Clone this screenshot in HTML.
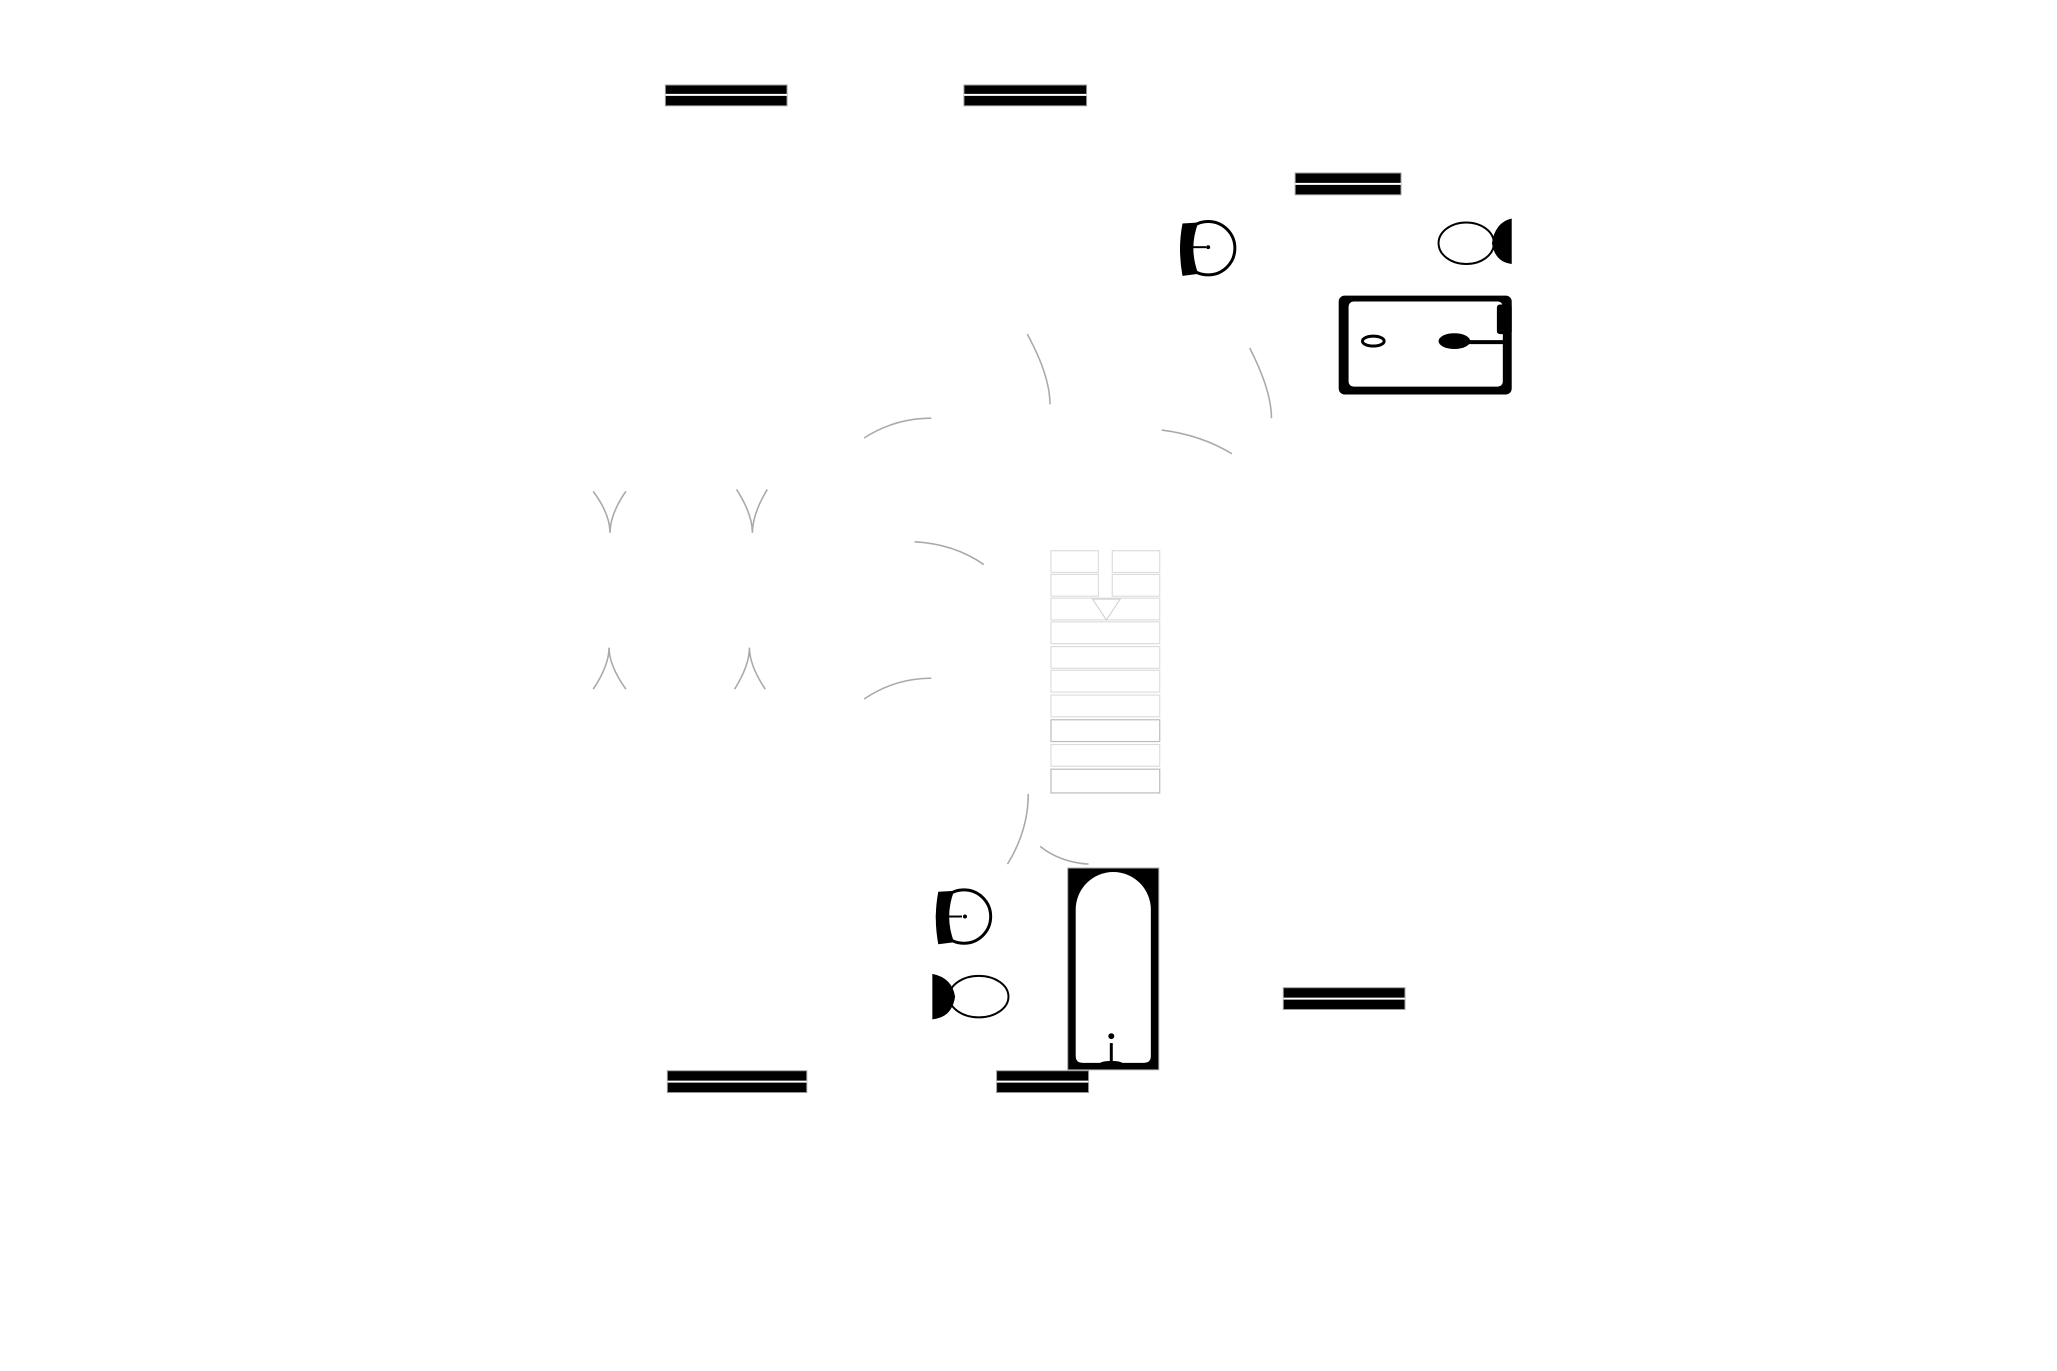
<!DOCTYPE html>
<html><head><meta charset="utf-8"><style>html,body{margin:0;padding:0;background:#fff;width:2057px;height:1371px;overflow:hidden}</style></head>
<body>
<svg width="2057" height="1371" viewBox="0 0 2057 1371" xmlns="http://www.w3.org/2000/svg">
<rect width="2057" height="1371" fill="#fff"/>
<g transform="scale(0.9887)">
<g fill="#000" stroke="#999" stroke-width="1">
<rect x="673" y="86" width="123" height="21"/>
<rect x="975" y="86" width="124" height="21"/>
<rect x="1310" y="175" width="107" height="22"/>
<rect x="1298" y="999" width="123" height="22"/>
<rect x="675" y="1083" width="141" height="22"/>
<rect x="1008" y="1083" width="93" height="22"/>
</g>
<g stroke="#fff" stroke-width="2">
<line x1="673" y1="96" x2="796" y2="96"/><line x1="975" y1="96" x2="1099" y2="96"/>
<line x1="1310" y1="186" x2="1417" y2="186"/><line x1="1298" y1="1010" x2="1421" y2="1010"/>
<line x1="675" y1="1094" x2="816" y2="1094"/><line x1="1008" y1="1094" x2="1101" y2="1094"/>
</g>
<!-- top sink -->
<circle cx="1222" cy="251" r="27" fill="#fff" stroke="#000" stroke-width="3"/>
<path d="M1196 226 L1212 225 Q1202 251 1212 277 L1196 279 Q1191 252 1196 226Z" fill="#000"/>
<line x1="1206" y1="250" x2="1220" y2="250" stroke="#000" stroke-width="2"/>
<circle cx="1222" cy="250" r="2" fill="#000"/>
<!-- top toilet -->
<ellipse cx="1483" cy="246" rx="28" ry="21" fill="#fff" stroke="#000" stroke-width="2"/>
<path d="M1529 221 L1529 267 Q1512 265 1509 246 Q1512 225 1529 221Z" fill="#000"/>
<!-- top bath -->
<rect x="1354" y="299" width="175" height="100" rx="6" fill="#000"/>
<rect x="1364" y="305" width="156" height="86" rx="5" fill="#fff"/>
<rect x="1514" y="308" width="15" height="30" rx="3" fill="#000"/>
<ellipse cx="1389" cy="345" rx="11" ry="5" fill="none" stroke="#000" stroke-width="3"/>
<ellipse cx="1471" cy="345" rx="16" ry="8" fill="#000"/>
<line x1="1480" y1="346" x2="1522" y2="346" stroke="#000" stroke-width="4"/>
<!-- arcs -->
<g fill="none" stroke="#aaa" stroke-width="1.6">
<path d="M1039 338 Q1062 380 1062 409"/>
<path d="M1264 352 Q1286 395 1286 423"/>
<path d="M874 443 Q905 423 942 423"/>
<path d="M1175 435 Q1215 440 1246 459"/>
<g transform="translate(8,5)">
<path d="M592 492 Q609 515 609 534 M625 492 Q609 515 609 534"/>
<path d="M737 490 Q753 515 753 534 M768 490 Q753 515 753 534"/>
<path d="M592 692 Q608 668 608 650 M625 692 Q608 668 608 650"/>
<path d="M735 692 Q750 668 750 650 M766 692 Q750 668 750 650"/>
</g>
<path d="M925 548 Q965 550 995 571"/>
<path d="M874 707 Q905 686 942 686"/>
<path d="M1040 803 Q1040 840 1019 874"/>
<path d="M1052 856 Q1072 872 1101 874"/>
</g>
<!-- stairs -->
<g fill="#fff" stroke="#ddd" stroke-width="1.2">
<rect x="1063" y="557" width="48" height="22"/><rect x="1125" y="557" width="48" height="22"/>
<rect x="1063" y="581" width="48" height="22"/><rect x="1125" y="581" width="48" height="22"/>
<rect x="1063" y="605" width="110" height="22"/>
<rect x="1063" y="629" width="110" height="22"/>
<rect x="1063" y="654" width="110" height="22"/>
<rect x="1063" y="678" width="110" height="22"/>
<rect x="1063" y="703" width="110" height="22"/>
<rect x="1063" y="728" width="110" height="22" stroke="#bbb"/>
<rect x="1063" y="753" width="110" height="22"/>
<rect x="1063" y="778" width="110" height="24" stroke="#bbb"/>
</g>
<path d="M1105 606 L1133 606 L1119 627Z" fill="#fff" stroke="#ccc"/>
<!-- bottom sink -->
<circle cx="975" cy="927" r="27" fill="#fff" stroke="#000" stroke-width="3"/>
<path d="M949 902 L965 901 Q955 927 965 953 L949 955 Q944 928 949 902Z" fill="#000"/>
<line x1="959" y1="927" x2="973" y2="927" stroke="#000" stroke-width="2"/>
<circle cx="976" cy="927" r="2" fill="#000"/>
<!-- bottom toilet -->
<ellipse cx="990" cy="1008" rx="30" ry="21" fill="#fff" stroke="#000" stroke-width="2"/>
<path d="M943 985 L943 1031 Q963 1029 966 1008 Q963 989 943 985Z" fill="#000"/>
<!-- bottom bath -->
<rect x="1080" y="878" width="92" height="204" fill="#000" stroke="#999"/>
<path d="M1088 920 A38 38 0 0 1 1164 920 L1164 1068 Q1164 1075 1157 1075 L1095 1075 Q1088 1075 1088 1068Z" fill="#fff"/>
<circle cx="1124" cy="1048" r="3" fill="#000"/>
<line x1="1124" y1="1055" x2="1124" y2="1076" stroke="#000" stroke-width="3"/>
<ellipse cx="1124" cy="1076" rx="12" ry="3" fill="#000"/>
</g>
</svg>
</body></html>
